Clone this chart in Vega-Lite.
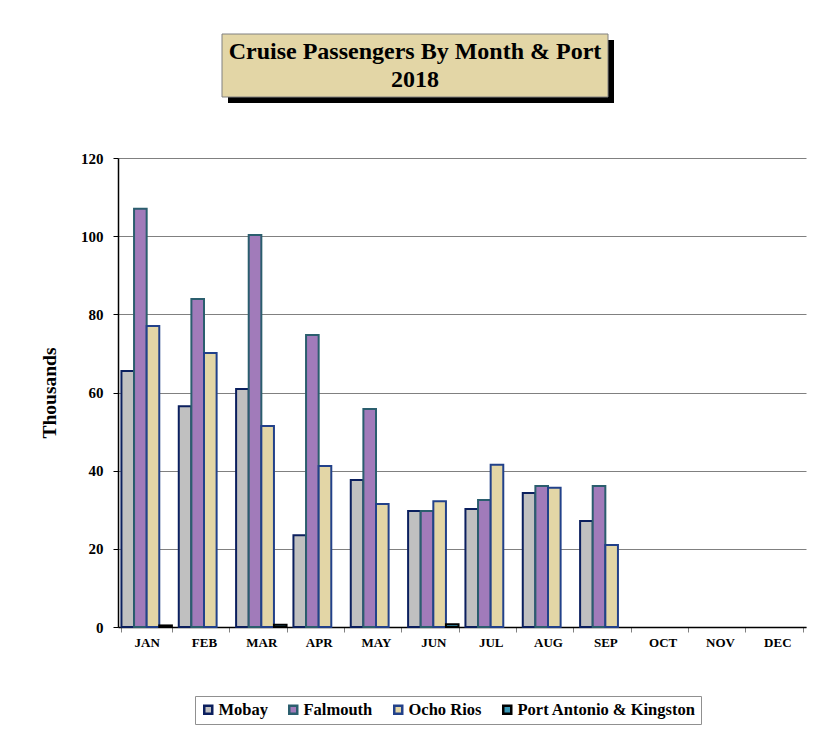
{
  "$schema": "https://vega.github.io/schema/vega-lite/v6.json",
  "background": "white",
  "padding": {"left": 39, "top": 33, "right": 10, "bottom": 10},
  "center": true,
  "spacing": 48,
  "config": {
    "font": "Liberation Serif",
    "view": {"stroke": null}
  },
  "vconcat": [
    {
      "width": 386,
      "height": 63,
      "data": {"values": [{"title": "Cruise Passengers By Month & Port"}]},
      "layer": [
        {
          "mark": {"type": "rect", "fill": "black", "xOffset": -41, "x2Offset": -41, "yOffset": 6, "y2Offset": 6},
          "encoding": {
            "x": {"datum": 0, "type": "quantitative", "scale": {"domain": [0, 1], "nice": false, "zero": false}, "axis": null},
            "x2": {"datum": 1},
            "y": {"datum": 0, "type": "quantitative", "scale": {"domain": [0, 1], "nice": false, "zero": false}, "axis": null},
            "y2": {"datum": 1}
          }
        },
        {
          "mark": {"type": "rect", "fill": "#E3D6A6", "stroke": "#808080", "strokeWidth": 1, "xOffset": -47, "x2Offset": -47},
          "encoding": {
            "x": {"datum": 0, "type": "quantitative"},
            "x2": {"datum": 1},
            "y": {"datum": 0, "type": "quantitative"},
            "y2": {"datum": 1}
          }
        },
        {
          "mark": {"type": "text", "font": "Liberation Serif", "fontWeight": "bold", "fontSize": 24, "lineHeight": 28, "baseline": "middle", "align": "center", "color": "black", "xOffset": -47, "dy": -14},
          "encoding": {
            "x": {"datum": 0.5, "type": "quantitative"},
            "y": {"datum": 0.5, "type": "quantitative"},
            "text": {"value": ["Cruise Passengers By Month & Port", "2018"]}
          }
        }
      ]
    },
    {
      "width": 688,
      "height": 469,
      "data": {
        "values": [
          {"month": "JAN", "port": "Mobay", "value": 65.5},
          {"month": "JAN", "port": "Falmouth", "value": 107},
          {"month": "JAN", "port": "Ocho Rios", "value": 77},
          {"month": "JAN", "port": "Port Antonio & Kingston", "value": 0.4},
          {"month": "FEB", "port": "Mobay", "value": 56.5},
          {"month": "FEB", "port": "Falmouth", "value": 83.9},
          {"month": "FEB", "port": "Ocho Rios", "value": 70.1},
          {"month": "MAR", "port": "Mobay", "value": 60.9},
          {"month": "MAR", "port": "Falmouth", "value": 100.3},
          {"month": "MAR", "port": "Ocho Rios", "value": 51.4},
          {"month": "MAR", "port": "Port Antonio & Kingston", "value": 0.6},
          {"month": "APR", "port": "Mobay", "value": 23.5},
          {"month": "APR", "port": "Falmouth", "value": 74.7},
          {"month": "APR", "port": "Ocho Rios", "value": 41.2},
          {"month": "MAY", "port": "Mobay", "value": 37.6},
          {"month": "MAY", "port": "Falmouth", "value": 55.8},
          {"month": "MAY", "port": "Ocho Rios", "value": 31.5},
          {"month": "JUN", "port": "Mobay", "value": 29.7},
          {"month": "JUN", "port": "Falmouth", "value": 29.7},
          {"month": "JUN", "port": "Ocho Rios", "value": 32.2},
          {"month": "JUN", "port": "Port Antonio & Kingston", "value": 0.7},
          {"month": "JUL", "port": "Mobay", "value": 30.2},
          {"month": "JUL", "port": "Falmouth", "value": 32.5},
          {"month": "JUL", "port": "Ocho Rios", "value": 41.5},
          {"month": "AUG", "port": "Mobay", "value": 34.3},
          {"month": "AUG", "port": "Falmouth", "value": 36.1},
          {"month": "AUG", "port": "Ocho Rios", "value": 35.6},
          {"month": "SEP", "port": "Mobay", "value": 27.1},
          {"month": "SEP", "port": "Falmouth", "value": 36.1},
          {"month": "SEP", "port": "Ocho Rios", "value": 21.0}
        ]
      },
      "mark": {"type": "bar", "strokeWidth": 2, "strokeJoin": "miter"},
      "encoding": {
        "x": {
          "field": "month",
          "type": "nominal",
          "sort": ["JAN","FEB","MAR","APR","MAY","JUN","JUL","AUG","SEP","OCT","NOV","DEC"],
          "scale": {"domain": ["JAN","FEB","MAR","APR","MAY","JUN","JUL","AUG","SEP","OCT","NOV","DEC"], "paddingInner": 0.12, "paddingOuter": 0.06},
          "axis": {
            "title": null, "labelAngle": 0, "tickBand": "extent", "grid": false,
            "domainColor": "black", "domainWidth": 1.5, "tickColor": "#808080", "tickSize": 5, "tickOffset": 0,
            "labelFont": "Liberation Serif", "labelFontWeight": "bold", "labelFontSize": 13, "labelColor": "black", "labelPadding": 4
          }
        },
        "xOffset": {
          "field": "port",
          "type": "nominal",
          "sort": ["Mobay", "Falmouth", "Ocho Rios", "Port Antonio & Kingston"],
          "scale": {"domain": ["Mobay", "Falmouth", "Ocho Rios", "Port Antonio & Kingston"], "paddingInner": 0, "paddingOuter": 0}
        },
        "y": {
          "field": "value",
          "type": "quantitative",
          "scale": {"domain": [0, 120], "nice": false},
          "axis": {
            "title": "Thousands", "values": [0, 20, 40, 60, 80, 100, 120],
            "grid": true, "gridColor": "#808080", "gridWidth": 1,
            "domainColor": "black", "domainWidth": 1.5, "tickColor": "black", "tickSize": 5,
            "labelFont": "Liberation Serif", "labelFontWeight": "bold", "labelFontSize": 15, "labelColor": "black", "labelPadding": 10,
            "titleFont": "Liberation Serif", "titleFontWeight": "bold", "titleFontSize": 19.5, "titleColor": "black", "titlePadding": 21
          }
        },
        "fill": {
          "field": "port",
          "type": "nominal",
          "scale": {"domain": ["Mobay", "Falmouth", "Ocho Rios", "Port Antonio & Kingston"], "range": ["#C0C0C0", "#A17BBA", "#E3D6A6", "#3A97B5"]},
          "legend": {
            "title": null, "orient": "none", "legendX": 77, "legendY": 662, "direction": "horizontal", "symbolType": "square", "symbolSize": 64, "symbolStrokeWidth": 2.5,
            "labelFont": "Liberation Serif", "labelFontWeight": "bold", "labelFontSize": 16.5, "labelColor": "black", "labelOffset": 2, "labelLimit": 400,
            "columnPadding": 16, "padding": 5, "fillColor": "white", "strokeColor": "#909090"
          }
        },
        "stroke": {
          "field": "port",
          "type": "nominal",
          "scale": {"domain": ["Mobay", "Falmouth", "Ocho Rios", "Port Antonio & Kingston"], "range": ["#0B1F5E", "#2B5E6E", "#22418A", "#000000"]},
          "legend": {
            "title": null, "orient": "none", "legendX": 77, "legendY": 662, "direction": "horizontal", "symbolType": "square", "symbolSize": 64, "symbolStrokeWidth": 2.5,
            "labelFont": "Liberation Serif", "labelFontWeight": "bold", "labelFontSize": 16.5, "labelColor": "black", "labelOffset": 2, "labelLimit": 400,
            "columnPadding": 16, "padding": 5, "fillColor": "white", "strokeColor": "#909090"
          }
        }
      }
    }
  ]
}
